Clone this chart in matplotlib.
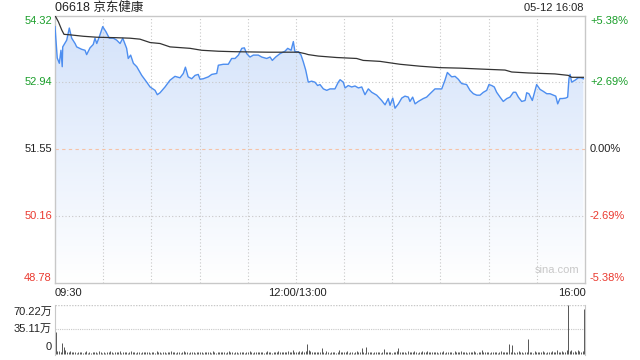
import numpy as np
import matplotlib
matplotlib.use("Agg")
from matplotlib import pyplot as plt
from matplotlib.colors import LinearSegmentedColormap

plt.rcParams['font.family'] = ['Liberation Sans', 'Noto Sans CJK SC', 'DejaVu Sans']

# 分时价格 (交易分钟, 价格)
price_t = [0, 1.4, 2.7, 3.7, 4.5, 4.8, 7.3, 8.9, 10.4, 12.5, 13.5, 16.6, 18.7, 19.7, 21.8, 23.8,
           24.9, 26.0, 27.6, 29.7, 31.8, 33.8, 36.3, 38.4, 40.5, 42.2, 44.6, 45.6, 47.1, 48.8,
           50.9, 54.0, 57.1, 59.2, 62.3, 63.7, 65.4, 68.5, 71.6, 74.7, 77.8, 79.9, 81.2, 82.9,
           85.1, 87.2, 89.2, 90.3, 92.3, 95.5, 97.6, 100.7, 101.7, 104.8, 107.9, 110.0, 112.1,
           114.2, 116.3, 117.9, 119.4, 121.4, 123.5, 126.6, 128.7, 131.8, 133.9, 135.3, 137.4,
           140.1, 143.2, 144.9, 147.0, 148.4, 149.4, 151.5, 153.2, 154.6, 156.1, 157.7, 159.8,
           161.8, 163.5, 165.0, 167.1, 169.2, 171.2, 174.3, 176.4, 177.5, 179.5, 180.6, 182.6,
           184.7, 186.8, 188.9, 191.0, 193.0, 195.1, 197.2, 200.3, 203.4, 205.5, 207.5, 208.6,
           210.3, 211.7, 213.8, 215.9, 217.9, 220.0, 221.0, 222.7, 224.2, 226.2, 229.3, 231.4,
           233.5, 236.6, 240.8, 242.8, 244.3, 247.0, 249.1, 251.1, 253.2, 256.3, 258.4, 260.5,
           262.6, 264.6, 266.7, 268.8, 270.2, 271.9, 273.5, 275.0, 277.1, 279.1, 281.3, 283.3,
           285.4, 286.9, 288.5, 290.6, 292.7, 293.7, 295.1, 297.2, 299.9, 302.0, 304.0, 306.2,
           308.2, 310.3, 311.8, 313.0, 314.4, 315.9, 318.0, 319.2, 320.0, 320.7, 321.7, 323.8,
           325.8, 327.5, 329.0]
price_val = [54.09, 53.44, 53.33, 53.60, 53.26, 53.67, 53.81, 54.06, 53.85, 53.74, 53.67, 53.62,
             53.60, 53.51, 53.65, 53.72, 53.85, 53.74, 53.88, 54.09, 53.98, 53.85, 53.85, 53.81,
             53.74, 53.85, 53.64, 53.43, 53.50, 53.33, 53.26, 53.08, 52.94, 52.84, 52.77, 52.68,
             52.72, 52.84, 52.98, 53.06, 53.03, 53.12, 53.25, 53.05, 53.01, 53.08, 53.10, 53.00,
             53.01, 53.05, 53.10, 53.12, 53.29, 53.31, 53.31, 53.43, 53.43, 53.50, 53.64, 53.65,
             53.53, 53.46, 53.50, 53.50, 53.46, 53.43, 53.46, 53.39, 53.46, 53.53, 53.58, 53.64,
             53.60, 53.78, 53.57, 53.57, 53.50, 53.36, 53.19, 52.94, 52.96, 52.94, 52.87, 52.89,
             52.80, 52.77, 52.80, 52.80, 52.94, 52.99, 52.94, 52.82, 52.87, 52.84, 52.86, 52.82,
             52.84, 52.68, 52.80, 52.73, 52.67, 52.56, 52.47, 52.60, 52.46, 52.61, 52.40, 52.49,
             52.61, 52.65, 52.63, 52.54, 52.63, 52.49, 52.54, 52.60, 52.63, 52.70, 52.80, 52.80,
             52.98, 53.14, 53.05, 53.06, 53.00, 52.91, 52.89, 52.77, 52.70, 52.67, 52.67, 52.73,
             52.77, 52.89, 52.87, 52.84, 52.73, 52.63, 52.54, 52.60, 52.63, 52.73, 52.73, 52.63,
             52.54, 52.56, 52.72, 52.70, 52.56, 52.89, 52.79, 52.75, 52.70, 52.70, 52.67, 52.65,
             52.49, 52.60, 52.60, 52.61, 52.63, 53.01, 53.10, 52.94, 52.98, 53.03, 53.03, 53.01]

# 均价线
avg_t = [0, 2.1, 4.2, 5.6, 9.3, 17.6, 26.0, 38.4, 46.7, 52.9, 59.2, 65.4, 71.6, 84.1, 91.3,
         101.7, 112.1, 132.8, 151.5, 155.7, 157.7, 163.9, 175.3, 187.8, 191.9, 202.4, 206.5,
         214.8, 227.3, 239.7, 252.2, 265.7, 280.2, 284.4, 294.7, 311.3, 319.6, 321.7, 329.0]
avg_val = [54.32, 54.19, 54.02, 53.93, 53.92, 53.89, 53.87, 53.86, 53.85, 53.83, 53.76, 53.74,
           53.67, 53.64, 53.60, 53.58, 53.57, 53.56, 53.56, 53.53, 53.51, 53.48, 53.45, 53.43,
           53.39, 53.37, 53.35, 53.31, 53.27, 53.24, 53.23, 53.21, 53.19, 53.15, 53.13, 53.11,
           53.08, 53.04, 53.04]

# 成交量 (万股), 每分钟一根
volume = [
    30.5, 3.2, 4.1, 2.5, 15.2, 9.1, 4.8, 3.0, 2.2, 3.5, 2.1, 1.8, 2.6, 1.5, 2.9, 1.7, 2.4, 1.3, 2.0, 3.1, 1.6, 2.2, 1.4, 2.8, 1.9, 2.5, 1.2, 3.3, 2.0, 1.6,
    2.3, 1.5, 2.7, 1.8, 3.6, 2.1, 1.4, 2.9, 1.7, 2.2, 3.8, 1.6, 2.4, 1.9, 2.6, 1.3, 2.0, 3.2, 1.8, 2.5, 1.5, 2.1, 2.8, 1.4, 1.9, 3.0, 2.2, 1.7, 2.4, 1.6,
    2.0, 2.7, 1.5, 3.4, 1.8, 2.3, 1.6, 2.9, 2.1, 1.4, 2.5, 1.9, 3.1, 1.7, 2.2, 1.5, 2.8, 2.0, 1.6, 2.4, 3.3, 1.8, 2.1, 1.5, 2.6, 1.9, 2.3, 1.4, 2.7, 2.0,
    1.7, 2.5, 1.5, 3.0, 2.2, 1.8, 2.4, 1.6, 3.5, 2.0, 1.5, 2.8, 1.9, 2.3, 1.7, 2.6, 1.4, 2.1, 3.2, 1.8, 2.5, 1.6, 2.0, 2.9, 1.5, 2.2, 1.9, 2.7, 1.6, 2.4,
    1.8, 3.1, 2.0, 1.5, 2.6, 1.9, 2.3, 1.7, 2.8, 2.1, 1.6, 2.4, 3.4, 1.8, 2.2, 1.5, 2.7, 1.9, 2.5, 3.6, 2.0, 1.7, 2.9, 2.2, 1.8, 3.3, 2.4, 2.0, 4.5, 3.0,
    2.6, 1.9, 3.2, 2.4, 4.0, 2.8, 3.5, 14.0, 5.2, 3.1, 2.0, 2.7, 1.8, 2.4, 3.0, 1.7, 7.5, 2.2, 1.6, 3.9, 2.1, 1.5, 2.6, 1.8, 2.3, 1.4, 2.9, 5.0, 2.0, 1.7,
    2.4, 1.9, 3.1, 1.6, 2.2, 2.8, 1.5, 2.0, 3.4, 1.8, 2.5, 8.6, 2.1, 1.6, 9.6, 2.7, 1.9, 2.3, 1.5, 3.0, 2.2, 1.8, 2.6, 1.4, 2.1, 6.7, 2.4, 1.7, 2.9, 2.0,
    1.6, 2.5, 1.9, 3.2, 8.0, 2.2, 1.7, 2.8, 2.0, 1.5, 3.6, 2.3, 1.8, 2.6, 4.1, 2.1, 1.6, 2.9, 2.4, 3.3, 1.9, 2.2, 4.4, 1.7, 2.5, 2.0, 3.0, 1.8, 2.3, 1.5,
    2.7, 2.0, 3.8, 1.6, 2.4, 1.9, 2.8, 2.2, 1.5, 3.1, 2.5, 1.8, 2.1, 3.5, 1.7, 2.6, 2.0, 1.5, 2.9, 2.3, 1.8, 3.2, 2.1, 1.6, 2.4, 1.9, 5.0, 2.2, 1.7, 2.7,
    2.0, 1.6, 3.0, 2.3, 1.8, 2.5, 1.5, 2.2, 3.4, 1.9, 2.6, 1.7, 2.1, 14.0, 2.8, 12.6, 2.0, 1.6, 2.4, 3.1, 1.8, 2.3, 1.5, 2.7, 2.0, 21.0, 1.9, 2.4, 1.6, 4.0,
    2.2, 3.0, 1.8, 2.5, 4.2, 2.0, 1.6, 2.8, 2.3, 1.9, 3.3, 2.1, 1.7, 5.0, 2.4, 2.0, 3.6, 1.8, 2.6, 4.8, 70.22, 3.5, 4.6, 2.9, 3.8, 2.4, 5.2, 3.1, 2.7, 4.0,
    63.8]

prev_close = 51.55
price_ticks = [54.32, 52.94, 51.55, 50.16, 48.78]
pct_labels = ['+5.38%', '+2.69%', '0.00%', '-2.69%', '-5.38%']
vol_ticks = [0, 35.11, 70.22]
vol_labels = ['0', '35.11万', '70.22万']
title = '06618 京东健康'
stamp = '05-12 16:08'

GREEN = '#1a9e2a'
RED = '#ea3a30'
BLUE = '#4d8ef0'
GRID = '#c8c8c8'
W, H = 640, 360

fig = plt.figure(figsize=(6.4, 3.6), dpi=100)
fig.patch.set_facecolor('white')

def fx(px):
    return px / W

def fy(py):
    return 1 - py / H

# 价格区
ax = fig.add_axes([fx(55), fy(283), fx(585) - fx(55), fy(15.5) - fy(283)])
ax.set_xlim(0, 330)
ax.set_ylim(price_ticks[-1], price_ticks[0])
for s in ax.spines.values():
    s.set_color(GRID)
    s.set_linewidth(1)
ax.set_xticks([])
ax.set_yticks([])

# 渐变填充
poly = ax.fill_between(price_t, price_val, price_ticks[-1], facecolor='none', edgecolor='none')
grad = np.linspace(0, 1, 256).reshape(-1, 1)
cmap = LinearSegmentedColormap.from_list('fill', ['#ffffff', '#d3e2fa'])
img = ax.imshow(grad, extent=[0, 330, price_ticks[-1], price_ticks[0]], origin='lower',
                aspect='auto', cmap=cmap, zorder=1)
img.set_clip_path(poly.get_paths()[0], transform=ax.transData)

# 网格线 (在填充之上)
for m in range(30, 330, 30):
    ax.axvline(m, color=GRID, lw=0.8, ls=(0, (1, 2)), zorder=2)
for v in [price_ticks[1], price_ticks[3]]:
    ax.axhline(v, color=GRID, lw=0.8, ls=(0, (1, 2)), zorder=2)
ax.axhline(prev_close, color='#f6c2a6', lw=0.8, ls=(0, (3, 3)), zorder=2)

ax.plot(price_t, price_val, color=BLUE, lw=1.0, zorder=3)
ax.plot(avg_t, avg_val, color='#333333', lw=0.9, zorder=4)

ax.text(0.99, 0.03, 'sina.com', transform=ax.transAxes, ha='right', va='bottom',
        color='#c8c8c8', fontsize=8)

# 左右刻度文字
left_colors = [GREEN, GREEN, '#222222', RED, RED]
vas = ['top', 'center', 'center', 'center', 'bottom']
for v, c, lab, va in zip(price_ticks, left_colors, pct_labels, vas):
    ax.annotate('%.2f' % v, xy=(0, v), xycoords=('axes fraction', 'data'),
                xytext=(-3, 0), textcoords='offset pixels', ha='right', va=va,
                color=c, fontsize=8)
    ax.annotate(lab, xy=(1, v), xycoords=('axes fraction', 'data'),
                xytext=(5, 0), textcoords='offset pixels', ha='left', va=va,
                color=c, fontsize=8)

fig.text(fx(55), fy(8), title, ha='left', va='center', fontsize=9, color='#222222')
fig.text(fx(584), fy(8), stamp, ha='right', va='center', fontsize=8, color='#222222')

fig.text(fx(55), fy(293), '09:30', ha='left', va='center', fontsize=8, color='#222222')
fig.text(fx(297), fy(293), '12:00/13:00', ha='center', va='center', fontsize=8, color='#222222')
fig.text(fx(586), fy(293), '16:00', ha='right', va='center', fontsize=8, color='#222222')

# 成交量区
axv = fig.add_axes([fx(55), fy(355), fx(585) - fx(55), fy(305) - fy(355)])
axv.set_xlim(-0.5, 330.5)
axv.set_ylim(-2, vol_ticks[-1])
axv.set_xticks([])
axv.set_yticks([])
for k in ['top', 'bottom']:
    axv.spines[k].set_visible(False)
for k in ['left', 'right']:
    axv.spines[k].set_color(GRID)
axv.axhline(vol_ticks[1], color=GRID, lw=0.8, ls=(0, (1, 1)))
axv.axhline(vol_ticks[2], color=GRID, lw=1.0, ls=(0, (1, 1)))
axv.vlines(np.arange(len(volume)), 0, volume, color='#555555', lw=0.7)

vvas = ['bottom', 'center', 'top']
for v, lab, va in zip(vol_ticks, vol_labels, vvas):
    axv.annotate(lab, xy=(0, v), xycoords=('axes fraction', 'data'),
                 xytext=(-3, 0 if va == 'center' else (-2 if va == 'top' else 2)),
                 textcoords='offset pixels', ha='right', va=va, fontsize=8, color='#222222')

fig.savefig('out.png', dpi=100)
